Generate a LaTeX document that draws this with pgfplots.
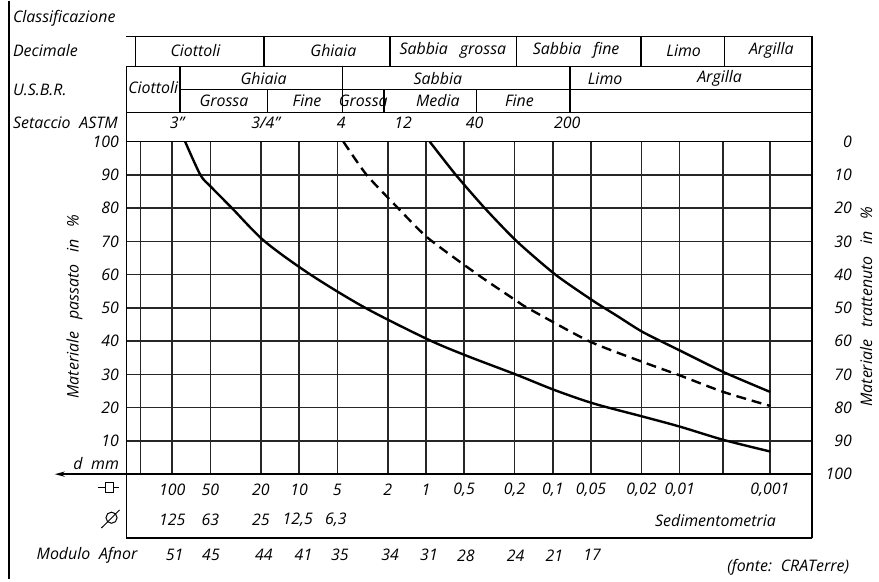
\documentclass[border=0pt]{standalone}
\usepackage{fontspec}
\setmainfont{Open Sans}
\usepackage{pgfplots}
\pgfplotsset{compat=1.18}
\usetikzlibrary{arrows.meta}
\newcommand\lab{\fontsize{8pt}{9.5pt}\selectfont\itshape}
\newcommand\ws{\hspace{0.55em}}
\newcommand\wws{\hspace{0.75em}}
\begin{document}
\begin{tikzpicture}[font=\lab]
\begin{axis}[
  scale only axis, width=344.5pt, height=167.1pt,
  xmin=-0.361, xmax=5.043, ymin=0, ymax=100,
  clip=false,
  axis line style={line width=0.75pt, black},
  xtick={-0.251,0,0.301,0.699,1,1.301,1.699,2,2.301,2.699,3,3.301,3.699,4,4.34,4.71},
  xticklabels={},
  ytick={10,20,...,100},
  grid=major,
  major grid style={line width=0.75pt, black!85},
  major tick length=0pt,
  /pgf/number format/assume math mode=true,
  yticklabel style={font=\lab, inner sep=0pt, xshift=-3.5pt},
]
% curves
\addplot[black, line width=1.2pt, smooth, tension=0.5] coordinates {
 (0.102,100) (0.222,90) (0.303,86.5) (0.471,80) (0.729,70) (1.090,60) (1.522,50)
 (2.016,40.5) (2.314,35.7) (2.706,30) (3.020,25.2) (3.325,21.2)
 (3.710,17.3) (4.000,14.3) (4.345,10.3) (4.714,6.8)};
\addplot[black, line width=1.2pt, smooth, tension=0.4, dash pattern=on 5pt off 3pt] coordinates {
 (1.349,100) (1.532,90) (1.780,80) (2.016,71) (2.408,60) (2.714,52.1) (2.800,50)
 (3.284,40) (3.710,33.7) (4.000,29.7) (4.345,24.7) (4.714,20.5)};
\addplot[black, line width=1.2pt, smooth, tension=0.4] coordinates {
 (2.029,100) (2.235,90) (2.463,80) (2.716,70) (3.020,60) (3.318,52.1) (3.506,47.6)
 (3.710,42.7) (4.000,37.2) (4.345,30.7) (4.714,24.7)};

% bounding
\path (axis cs:-1.357,142.34) rectangle (axis cs:5.537,-31.51);
% frame lines
\draw[line width=0.75pt] (axis cs:-1.286,142.34) -- (axis cs:-1.286,-31.51);
\draw[line width=0.75pt] (axis cs:-0.361,131.6) -- (axis cs:5.043,131.6);
\draw[line width=0.75pt] (axis cs:5.043,131.6) -- (axis cs:5.043,-19.2);
\draw[line width=0.75pt] (axis cs:-0.361,122.6) -- (axis cs:5.043,122.6);
\draw[line width=0.75pt] (axis cs:0.063,115.7) -- (axis cs:5.043,115.7);
\draw[line width=0.75pt] (axis cs:-0.361,108.8) -- (axis cs:5.043,108.8);
\draw[line width=0.75pt] (axis cs:-0.361,122.6) -- (axis cs:-0.361,-19.2);
\draw[line width=0.75pt] (axis cs:-0.361,-19.2) -- (axis cs:5.043,-19.2);
\draw[line width=0.75pt] (axis cs:-0.29,131.6) -- (axis cs:-0.29,122.6);
\draw[line width=0.75pt] (axis cs:0.722,131.6) -- (axis cs:0.722,122.6);
\draw[line width=0.75pt] (axis cs:1.718,131.6) -- (axis cs:1.718,122.6);
\draw[line width=0.75pt] (axis cs:2.714,131.6) -- (axis cs:2.714,122.6);
\draw[line width=0.75pt] (axis cs:3.694,131.6) -- (axis cs:3.694,122.6);
\draw[line width=0.75pt] (axis cs:4.353,131.6) -- (axis cs:4.353,122.6);
\draw[line width=0.75pt] (axis cs:0.063,122.6) -- (axis cs:0.063,108.8);
\draw[line width=0.75pt] (axis cs:1.341,122.6) -- (axis cs:1.341,108.8);
\draw[line width=0.75pt] (axis cs:3.137,122.6) -- (axis cs:3.137,108.8);
\draw[line width=0.75pt] (axis cs:0.753,115.7) -- (axis cs:0.753,108.8);
\draw[line width=0.75pt] (axis cs:1.671,115.7) -- (axis cs:1.671,108.8);
\draw[line width=0.75pt] (axis cs:2.400,115.7) -- (axis cs:2.400,108.8);
% arrow d mm
\draw[line width=0.75pt, -{Stealth[length=5pt,width=2.6pt]}] (axis cs:-0.361,0) -- (axis cs:-0.925,0);
\node[anchor=east, inner sep=0pt] at (axis cs:-0.416,3.3) {d\ws mm};
% symbols
\draw[line width=0.5pt] (axis cs:-0.585,-4.0) -- (axis cs:-0.416,-4.0);
\draw[line width=0.5pt, fill=white] (axis cs:-0.525,-5.44) rectangle (axis cs:-0.463,-2.56);
\draw[line width=0.5pt] (axis cs:-0.478,-13.1) circle[radius=2.8pt];
\draw[line width=0.5pt] (axis cs:-0.558,-16.21) -- (axis cs:-0.415,-10.77);

% left labels
\node[anchor=west, inner sep=0pt] at (axis cs:-1.257,137.2) {Classificazione};
\node[anchor=west, inner sep=0pt] at (axis cs:-1.257,127.4) {Decimale};
\node[anchor=west, inner sep=0pt] at (axis cs:-1.257,115.6) {U.S.B.R.};
\node[anchor=west, inner sep=0pt] at (axis cs:-1.257,105.7) {Setaccio\ws ASTM};
% decimale
\node at (axis cs:0.184,127.4) {Ciottoli};
\node at (axis cs:1.271,127.4) {Ghiaia};
\node at (axis cs:2.212,127.4) {Sabbia\wws grossa};
\node at (axis cs:3.184,127.4) {Sabbia\wws fine};
\node at (axis cs:4.031,127.4) {Limo};
\node at (axis cs:4.722,127.4) {Argilla};
% usbr
\node[inner sep=0pt] at (axis cs:-0.149,116.2) {Ciottoli};
\node at (axis cs:0.72,118.9) {Ghiaia};
\node at (axis cs:2.094,118.9) {Sabbia};
\node at (axis cs:3.412,118.9) {Limo};
\node at (axis cs:4.314,118.9) {Argilla};
\node at (axis cs:0.408,112.2) {Grossa};
\node at (axis cs:1.063,112.2) {Fine};
\node[inner sep=0pt] at (axis cs:1.506,112.2) {Grossa};
\node at (axis cs:2.094,112.2) {Media};
\node at (axis cs:2.737,112.2) {Fine};
% setaccio
\node at (axis cs:0.039,105.7) {3\char34};
\node at (axis cs:0.737,105.7) {3/4\char34};
\node at (axis cs:1.333,105.7) {4};
\node at (axis cs:1.820,105.7) {12};
\node at (axis cs:2.384,105.7) {40};
\node at (axis cs:3.114,105.7) {200};
% right labels
\node[anchor=east, inner sep=0pt] at (axis cs:5.36,100) {0};
\node[anchor=east, inner sep=0pt] at (axis cs:5.36,90) {10};
\node[anchor=east, inner sep=0pt] at (axis cs:5.36,80) {20};
\node[anchor=east, inner sep=0pt] at (axis cs:5.36,70) {30};
\node[anchor=east, inner sep=0pt] at (axis cs:5.36,60) {40};
\node[anchor=east, inner sep=0pt] at (axis cs:5.36,50) {50};
\node[anchor=east, inner sep=0pt] at (axis cs:5.36,40) {60};
\node[anchor=east, inner sep=0pt] at (axis cs:5.36,30) {70};
\node[anchor=east, inner sep=0pt] at (axis cs:5.36,20) {80};
\node[anchor=east, inner sep=0pt] at (axis cs:5.36,10) {90};
\node[anchor=east, inner sep=0pt] at (axis cs:5.36,0) {100};
\node[rotate=90] at (axis cs:-0.77,50.4) {Materiale\wws passato\wws in\wws \%};
\node[rotate=90] at (axis cs:5.47,50.4) {Materiale\wws trattenuto\wws in\wws \%};
% bottom row 1
\node at (axis cs:0,-4.6) {100};
\node at (axis cs:0.301,-4.6) {50};
\node at (axis cs:0.699,-4.6) {20};
\node at (axis cs:1,-4.6) {10};
\node at (axis cs:1.301,-4.6) {5};
\node at (axis cs:1.699,-4.6) {2};
\node at (axis cs:2,-4.6) {1};
\node at (axis cs:2.301,-4.6) {0,5};
\node at (axis cs:2.699,-4.6) {0,2};
\node at (axis cs:3,-4.6) {0,1};
\node at (axis cs:3.301,-4.6) {0,05};
\node at (axis cs:3.699,-4.6) {0,02};
\node at (axis cs:4,-4.6) {0,01};
\node at (axis cs:4.71,-4.6) {0,001};
% row 2
\node at (axis cs:0,-13.7) {125};
\node at (axis cs:0.301,-13.7) {63};
\node at (axis cs:0.699,-13.7) {25};
\node at (axis cs:0.99,-13.7) {12,5};
\node at (axis cs:1.29,-13.7) {6,3};
\node at (axis cs:4.282,-13.9) {Sedimentometria};
% afnor
\node at (axis cs:-0.671,-24.4) {Modulo\ws Afnor};
\node at (axis cs:0.02,-24.4) {51};
\node at (axis cs:0.306,-24.4) {45};
\node at (axis cs:0.722,-24.4) {44};
\node at (axis cs:1.035,-24.4) {41};
\node at (axis cs:1.322,-24.4) {35};
\node at (axis cs:1.718,-24.4) {34};
\node at (axis cs:2.024,-24.4) {31};
\node at (axis cs:2.314,-24.4) {28};
\node at (axis cs:2.706,-24.4) {24};
\node at (axis cs:3.012,-24.4) {21};
\node at (axis cs:3.310,-24.4) {17};
\node at (axis cs:4.855,-27.9) {(fonte:\ws CRATerre)};
\end{axis}
\end{tikzpicture}
\end{document}
